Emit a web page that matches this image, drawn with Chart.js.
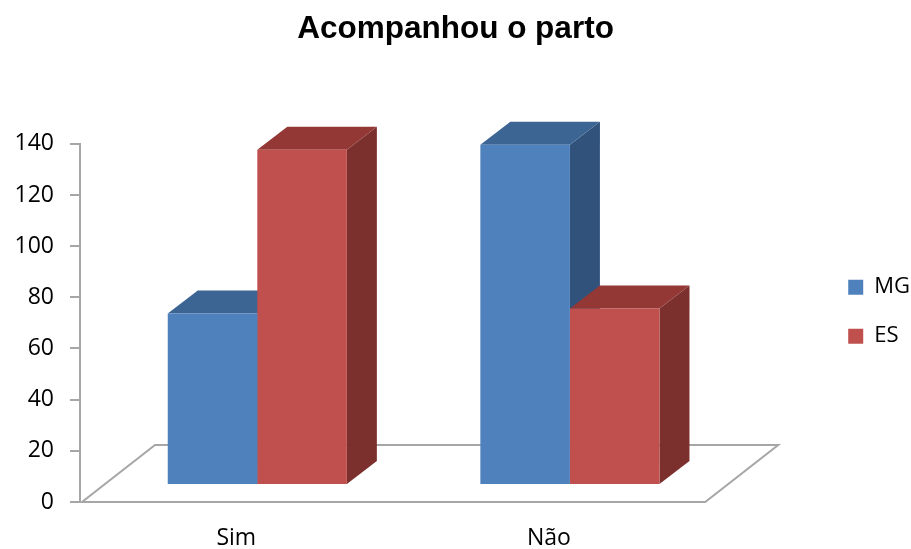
<!DOCTYPE html>
<html>
<head>
<meta charset="utf-8">
<script src="https://cdn.jsdelivr.net/npm/chart.js@4"></script>
<style>
  html, body { margin: 0; padding: 0; background: #fff; }
  #wrap { width: 911px; height: 549px; }
</style>
</head>
<body>
<div id="wrap"><canvas id="c" width="911" height="549"></canvas></div>
<script>
const categories = ['Sim', 'Não'];
const seriesNames = ['MG', 'ES'];
const mgValues = [67, 133];
const esValues = [131, 69];
const yTickMin = 0;
const yTickMax = 140;
const yTickStep = 20;

const FRONT = ['#4F81BD', '#C0504D'];
const TOP = ['#3D6593', '#943836'];
const SIDE = ['#31527B', '#7C302E'];

const BAR_SHIFT_X = 21, BAR_SHIFT_Y = -17;   // bars sit inside the floor depth
const BAR_DX = 30, BAR_DY = -23;             // bar depth
const FLOOR_DX = 73, FLOOR_DY = -57;         // floor depth

const depth3d = {
  id: 'depth3d',
  beforeDatasetsDraw(chart) {
    const ctx = chart.ctx, ca = chart.chartArea;
    const y0 = chart.scales.y.getPixelForValue(0);
    const l = ca.left + 2, r = ca.right;
    ctx.save();
    ctx.beginPath();
    ctx.moveTo(l, y0); ctx.lineTo(r, y0);
    ctx.lineTo(r + FLOOR_DX, y0 + FLOOR_DY);
    ctx.lineTo(l + FLOOR_DX, y0 + FLOOR_DY);
    ctx.closePath();
    ctx.fillStyle = '#fff'; ctx.fill();
    ctx.strokeStyle = '#A6A6A6'; ctx.lineWidth = 2; ctx.lineJoin = 'miter';
    ctx.stroke();
    ctx.restore();

    ctx.save();
    ctx.translate(BAR_SHIFT_X, BAR_SHIFT_Y);
    chart.data.datasets.forEach((ds, di) => {
      const meta = chart.getDatasetMeta(di);
      meta.data.forEach(bar => {
        const p = bar.getProps(['x', 'y', 'base', 'width'], true);
        const bl = p.x - p.width / 2, br = p.x + p.width / 2;
        ctx.fillStyle = SIDE[di];
        ctx.beginPath();
        ctx.moveTo(br, p.y); ctx.lineTo(br + BAR_DX, p.y + BAR_DY);
        ctx.lineTo(br + BAR_DX, p.base + BAR_DY); ctx.lineTo(br, p.base);
        ctx.closePath(); ctx.fill();
        ctx.fillStyle = TOP[di];
        ctx.beginPath();
        ctx.moveTo(bl, p.y); ctx.lineTo(bl + BAR_DX, p.y + BAR_DY);
        ctx.lineTo(br + BAR_DX, p.y + BAR_DY); ctx.lineTo(br, p.y);
        ctx.closePath(); ctx.fill();
      });
    });
    ctx.restore();
    ctx.save();
    ctx.translate(BAR_SHIFT_X, BAR_SHIFT_Y);
  },
  afterDatasetsDraw(chart) {
    chart.ctx.restore();
  }
};

const FONT = "'Open Sans', 'DejaVu Sans', sans-serif";

new Chart(document.getElementById('c'), {
  type: 'bar',
  data: {
    labels: categories,
    datasets: [
      { label: seriesNames[0], data: mgValues, backgroundColor: FRONT[0], borderWidth: 0,
        categoryPercentage: 0.573, barPercentage: 1, clip: false },
      { label: seriesNames[1], data: esValues, backgroundColor: FRONT[1], borderWidth: 0,
        categoryPercentage: 0.573, barPercentage: 1, clip: false }
    ]
  },
  options: {
    responsive: false,
    animation: false,
    devicePixelRatio: 1,
    layout: { padding: { left: -9, right: -9, top: 0, bottom: 0 } },
    plugins: {
      tooltip: { enabled: false },
      title: {
        display: true,
        text: 'Acompanhou o parto',
        color: '#000',
        font: { family: "'Liberation Sans', Arial, sans-serif", size: 31.5, weight: 'bold', lineHeight: 1.2 },
        padding: { top: 10, bottom: 96 }
      },
      legend: {
        position: 'right',
        align: 'start',
        fullSize: false,
        title: { display: true, text: '', font: { size: 12, lineHeight: 1.2 }, padding: { top: 0, bottom: 91 } },
        labels: {
          color: '#000',
          font: { family: FONT, size: 22 },
          boxWidth: 15, boxHeight: 15,
          padding: 27
        }
      }
    },
    scales: {
      x: {
        grid: { display: false, drawTicks: false },
        border: { display: false },
        ticks: { color: '#000', font: { family: FONT, size: 23 }, padding: 23 },
        afterFit: s => { s.height = 47; }
      },
      y: {
        min: yTickMin, max: yTickMax,
        ticks: { stepSize: yTickStep, color: '#000', font: { family: FONT, size: 23 }, padding: 16 },
        grid: { display: true, drawOnChartArea: false, drawTicks: true, tickLength: 10, color: '#A6A6A6', lineWidth: 2 },
        border: { display: true, color: '#A6A6A6', width: 2 },
        afterFit: s => { s.width = 89; }
      },
      pad: {
        type: 'linear',
        position: 'right',
        display: true,
        ticks: { display: false },
        grid: { display: false, drawTicks: false },
        border: { display: false },
        afterFit: s => { s.width = 116; }
      }
    }
  },
  plugins: [depth3d]
});
</script>
</body>
</html>
